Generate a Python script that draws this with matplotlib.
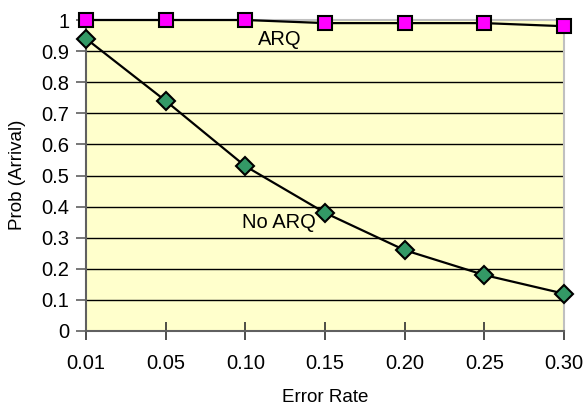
import matplotlib
matplotlib.use("Agg")
import matplotlib.pyplot as plt

categories = ["0.01", "0.05", "0.10", "0.15", "0.20", "0.25", "0.30"]
arq = [1.0, 1.0, 1.0, 0.99, 0.99, 0.99, 0.98]
no_arq = [0.94, 0.74, 0.53, 0.38, 0.26, 0.18, 0.12]
yticks = [0, 0.1, 0.2, 0.3, 0.4, 0.5, 0.6, 0.7, 0.8, 0.9, 1]
ytick_labels = ["0", "0.1", "0.2", "0.3", "0.4", "0.5", "0.6", "0.7", "0.8", "0.9", "1"]

plt.rcParams['font.family'] = ['Liberation Sans', 'DejaVu Sans']

fig = plt.figure(figsize=(5.87, 4.08), dpi=100)
ax = fig.add_axes([86/587, 77/408, (564-86)/587, (331-20)/408])
ax.set_facecolor("#FFFFCC")

x = list(range(len(categories)))
ax.plot(x, no_arq, color="black", lw=1.6, marker="D", markersize=9,
        markerfacecolor="#339966", markeredgecolor="black", markeredgewidth=1.5,
        clip_on=False, zorder=5)
ax.plot(x, arq, color="black", lw=1.6, marker="s", markersize=10,
        markerfacecolor="#FF00FF", markeredgecolor="black", markeredgewidth=1.5,
        clip_on=False, zorder=6)

ax.set_xlim(0, len(categories) - 1)
ax.set_ylim(0, 1)
ax.set_xticks(x)
ax.set_xticklabels(categories, fontsize=14.5)
ax.set_yticks(yticks)
ax.set_yticklabels(ytick_labels, fontsize=14.5)

for yv in yticks[1:-1]:
    ax.axhline(yv, color="black", lw=1.0, zorder=1)

for s in ["top", "right"]:
    ax.spines[s].set_color("#C0C0C0")
    ax.spines[s].set_linewidth(1.5)
for s in ["left", "bottom"]:
    ax.spines[s].set_color("#606060")
    ax.spines[s].set_linewidth(1.5)

ax.tick_params(axis="y", direction="out", length=7, width=1.2, color="#606060", pad=5)
ax.tick_params(axis="x", direction="inout", length=13, width=1.2, color="#303030", pad=10)

ax.text(2.43, 0.936, "ARQ", fontsize=14.5, ha="center", va="center", zorder=7)
ax.text(2.42, 0.35, "No ARQ", fontsize=14.5, ha="center", va="center", zorder=7)

fig.text(18/587, 1 - 175/408, "Prob (Arrival)", rotation=90, fontsize=13.5,
         ha="center", va="center")
fig.text(325/587, 1 - 398/408, "Error Rate", fontsize=13.5, ha="center", va="center")

fig.savefig("out.png", dpi=100)
